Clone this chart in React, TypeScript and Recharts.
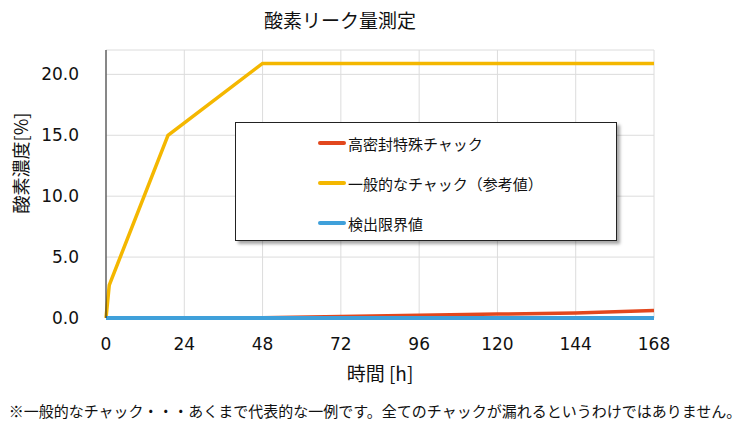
import { LineChart, Line, XAxis, YAxis, CartesianGrid } from "recharts";

document.body.style.margin = "0";

const FONT = '"Noto Sans CJK JP", "Noto Sans", sans-serif';
const NUM_FONT = '"DejaVu Sans", sans-serif';

// hours on the x axis
const hours = [0, 1, 19, 24, 48, 72, 96, 120, 144, 168];
const sealedChuck = [0, null, null, 0, 0.03, 0.12, 0.22, 0.32, 0.42, 0.62];
const normalChuck = [0, 2.7, 15.0, null, 20.9, 20.9, 20.9, 20.9, 20.9, 20.9];
const detectionLimit = [0, null, null, 0, 0, 0, 0, 0, 0, 0];

const xTicks = [0, 24, 48, 72, 96, 120, 144, 168];
const yTicks = [0, 5, 10, 15, 20];

const seriesNames = ["高密封特殊チャック", "一般的なチャック（参考値）", "検出限界値"];
const seriesColors = ["#E2471D", "#F4B700", "#3FA0DA"];

const data = hours.map((h, i) => ({
  hour: h,
  sealed: sealedChuck[i],
  normal: normalChuck[i],
  limit: detectionLimit[i],
}));

const LegendBox = () => (
  <div
    style={{
      position: "absolute",
      left: 235,
      top: 122,
      width: 382,
      height: 119,
      border: "1.5px solid #222",
      background: "#fff",
      boxShadow: "3px 3px 3px rgba(0,0,0,0.35)",
      boxSizing: "border-box",
    }}
  >
    {seriesNames.map((name, i) => (
      <div
        key={name}
        style={{ display: "flex", alignItems: "center", height: 40, paddingLeft: 82 }}
      >
        <span
          style={{
            display: "inline-block",
            width: 28,
            height: 4,
            borderRadius: 2,
            background: seriesColors[i],
            marginRight: 2,
          }}
        />
        <span style={{ fontSize: 15, color: "#111" }}>{name}</span>
      </div>
    ))}
  </div>
);

export default function App() {
  return (
    <div style={{ position: "relative", width: 750, height: 426, background: "#fff", fontFamily: FONT }}>
      <LineChart
        width={750}
        height={426}
        data={data}
        margin={{ top: 50, right: 96, bottom: 78, left: 0 }}
        style={{ position: "absolute", top: 0, left: 0 }}
      >
        <CartesianGrid stroke="#DCDCDC" strokeWidth={1} strokeDasharray="1 0" />
        <XAxis
          dataKey="hour"
          type="number"
          domain={[0, 168]}
          ticks={xTicks}
          interval={0}
          tickLine={false}
          axisLine={false}
          tick={{ fill: "#111", fontSize: 17, fontFamily: NUM_FONT }}
          tickMargin={14}
          height={30}
        />
        <XAxis
          xAxisId="top"
          orientation="top"
          dataKey="hour"
          type="number"
          domain={[0, 168]}
          tick={false}
          tickLine={false}
          axisLine={{ stroke: "#222" }}
          height={0}
        />
        <YAxis
          domain={[0, 22]}
          ticks={yTicks}
          interval={0}
          tickLine={false}
          axisLine={{ stroke: "#222" }}
          tick={{ fill: "#111", fontSize: 17, fontFamily: NUM_FONT }}
          tickFormatter={(v: number) => v.toFixed(1)}
          tickMargin={21}
          width={106}
        />
        <YAxis
          yAxisId="right"
          orientation="right"
          domain={[0, 22]}
          tick={false}
          tickLine={false}
          axisLine={{ stroke: "#222" }}
          width={0}
        />
        <Line
          dataKey="normal"
          name={seriesNames[1]}
          stroke={seriesColors[1]}
          strokeWidth={3.5}
          dot={false}
          connectNulls
          isAnimationActive={false}
        />
        <Line
          dataKey="sealed"
          name={seriesNames[0]}
          stroke={seriesColors[0]}
          strokeWidth={3.5}
          dot={false}
          connectNulls
          isAnimationActive={false}
        />
        <Line
          dataKey="limit"
          name={seriesNames[2]}
          stroke={seriesColors[2]}
          strokeWidth={4}
          dot={false}
          connectNulls
          isAnimationActive={false}
        />
      </LineChart>
      <LegendBox />
      <div
        style={{
          position: "absolute",
          top: 6,
          left: 0,
          width: 680,
          textAlign: "center",
          fontSize: 19,
          fontWeight: 400,
          color: "#111",
        }}
      >
        酸素リーク量測定
      </div>
      <div
        style={{
          position: "absolute",
          left: 20,
          top: 163,
          transform: "translate(-50%, -50%) rotate(-90deg)",
          whiteSpace: "nowrap",
          fontSize: 18,
          color: "#111",
        }}
      >
        酸素濃度[%]
      </div>
      <div
        style={{
          position: "absolute",
          top: 359,
          left: 106,
          width: 548,
          textAlign: "center",
          fontSize: 19,
          color: "#111",
        }}
      >
        時間 [h]
      </div>
      <div
        style={{
          position: "absolute",
          top: 400,
          left: 0,
          width: 750,
          textAlign: "center",
          fontSize: 15,
          color: "#111",
          whiteSpace: "nowrap",
        }}
      >
        ※一般的なチャック・・・あくまで代表的な一例です。全てのチャックが漏れるというわけではありません。
      </div>
    </div>
  );
}
